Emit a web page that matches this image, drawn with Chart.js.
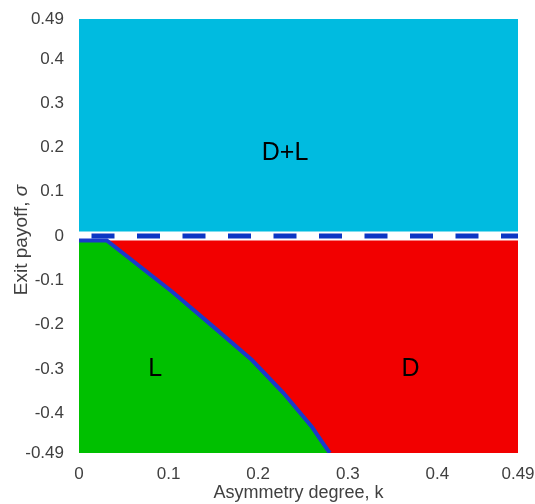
<!DOCTYPE html>
<html>
<head>
<meta charset="utf-8">
<script src="https://cdn.jsdelivr.net/npm/chart.js@4/dist/chart.umd.min.js"></script>
<style>
  html, body { margin: 0; padding: 0; background: #fff; }
  #wrap { width: 535px; height: 504px; }
</style>
</head>
<body>
<div id="wrap"><canvas id="phaseChart"></canvas></div>
<script>
// boundary between L and D regions (k, sigma)
var boundaryK = [0, 0.031, 0.104, 0.154, 0.193, 0.228, 0.26, 0.272, 0.28];
var boundarySigma = [-0.01, -0.01, -0.126, -0.212, -0.28, -0.354, -0.431, -0.467, -0.49];

// edges of the other regions
var regionK = [0, 0.49];
var topSigma = [0.49, 0.49];      // D+L upper edge
var dlLowerSigma = 0.01;          // D+L lower edge
var dashSigma = [0, 0];           // dashed line at sigma = 0
var dTopSigma = [-0.01, -0.01];   // D upper edge
var bottomSigma = -0.49;

var xTicks = [0, 0.1, 0.2, 0.3, 0.4, 0.49];
var yTicks = [-0.49, -0.4, -0.3, -0.2, -0.1, 0, 0.1, 0.2, 0.3, 0.4, 0.49];

var FONT = '"Liberation Sans", Arial, sans-serif';

function pts(xs, ys) {
    return xs.map(function (x, i) { return { x: x, y: ys[i] }; });
}

var regionText = {
    id: 'regionText',
    afterDatasetsDraw: function (chart) {
        var c = chart.ctx, xs = chart.scales.x, ys = chart.scales.y;
        c.save();
        c.fillStyle = '#000';
        c.font = '25px ' + FONT;
        c.textAlign = 'center';
        c.textBaseline = 'middle';
        c.fillText('D+L', xs.getPixelForValue(0.23), ys.getPixelForValue(0.187));
        c.fillText('L', xs.getPixelForValue(0.085), ys.getPixelForValue(-0.30));
        c.fillText('D', xs.getPixelForValue(0.37), ys.getPixelForValue(-0.30));
        c.restore();
    }
};

// y axis title with italic sigma
var yTitle = {
    id: 'yTitle',
    afterDraw: function (chart) {
        var c = chart.ctx, area = chart.chartArea;
        var part1 = 'Exit payoff, ', part2 = '\u03c3';
        c.save();
        c.fillStyle = '#404040';
        c.textBaseline = 'middle';
        c.font = '19px ' + FONT;
        var w1 = c.measureText(part1).width;
        c.font = 'italic 19px ' + FONT;
        var w2 = c.measureText(part2).width;
        c.translate(22, (area.top + area.bottom) / 2 + 4);
        c.rotate(-Math.PI / 2);
        var x0 = -(w1 + w2) / 2;
        c.textAlign = 'left';
        c.font = '19px ' + FONT;
        c.fillText(part1, x0, 0);
        c.font = 'italic 19px ' + FONT;
        c.fillText(part2, x0 + w1, 0);
        c.restore();
    }
};

var ctx = document.getElementById('phaseChart').getContext('2d');
var myChart = new Chart(ctx, {
    type: 'scatter',
    data: {
        datasets: [{
            label: 'sigma = 0',
            data: pts(regionK, dashSigma),
            showLine: true,
            borderColor: '#0b36c4',
            borderWidth: 5,
            borderDash: [23, 22.5],
            borderDashOffset: 33,
            pointRadius: 0,
            fill: false
        }, {
            label: 'L',
            data: pts(boundaryK, boundarySigma),
            showLine: true,
            borderColor: '#1a3acb',
            borderWidth: 4,
            backgroundColor: '#00c000',
            pointRadius: 0,
            tension: 0,
            fill: { value: bottomSigma }
        }, {
            label: 'D',
            data: pts(regionK, dTopSigma),
            showLine: true,
            borderWidth: 0,
            backgroundColor: '#f20000',
            pointRadius: 0,
            fill: { value: bottomSigma }
        }, {
            label: 'D+L',
            data: pts(regionK, topSigma),
            showLine: true,
            borderWidth: 0,
            backgroundColor: '#00bbe0',
            pointRadius: 0,
            fill: { value: dlLowerSigma }
        }]
    },
    options: {
        responsive: true,
        maintainAspectRatio: false,
        animation: false,
        layout: { padding: { left: 0, right: 17, top: 19, bottom: 0 } },
        plugins: {
            legend: { display: false },
            tooltip: { enabled: false }
        },
        scales: {
            x: {
                type: 'linear',
                min: 0,
                max: 0.49,
                grid: { display: false },
                border: { display: false },
                afterBuildTicks: function (scale) {
                    scale.ticks = xTicks.map(function (v) { return { value: v }; });
                },
                afterFit: function (scale) {
                    scale.height = 51;
                    scale.paddingRight = 0;
                    scale.paddingLeft = 0;
                },
                ticks: {
                    padding: 3,
                    color: '#404040',
                    font: { size: 17, family: FONT },
                    maxRotation: 0,
                    callback: function (v) { return String(v); }
                },
                title: {
                    display: true,
                    text: 'Asymmetry degree, k',
                    color: '#404040',
                    padding: { top: 0, bottom: 0 },
                    font: { size: 18, family: FONT }
                }
            },
            y: {
                type: 'linear',
                min: -0.49,
                max: 0.49,
                grid: { display: false },
                border: { display: false },
                afterBuildTicks: function (scale) {
                    scale.ticks = yTicks.map(function (v) { return { value: v }; });
                },
                afterFit: function (scale) {
                    scale.width = 79;
                    scale.paddingTop = 0;
                    scale.paddingBottom = 0;
                },
                ticks: {
                    padding: 7,
                    color: '#404040',
                    font: { size: 17, family: FONT },
                    callback: function (v) { return String(v); }
                }
            }
        }
    },
    plugins: [regionText, yTitle]
});
</script>
</body>
</html>
